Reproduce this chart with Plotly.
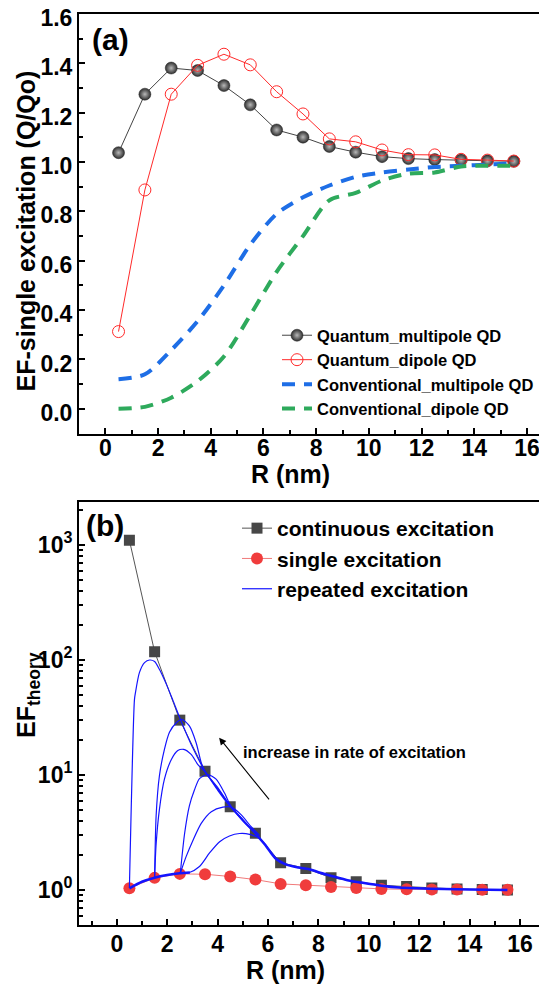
import math
import plotly.graph_objects as go

# ---------------- data: panel (a) ----------------
R = [0.5, 1.5, 2.5, 3.5, 4.5, 5.5, 6.5, 7.5, 8.5, 9.5, 10.5, 11.5, 12.5, 13.5, 14.5, 15.5]
quantum_multipole = [1.038, 1.275, 1.381, 1.371, 1.310, 1.232, 1.130, 1.101, 1.063, 1.040,
                     1.022, 1.014, 1.010, 1.008, 1.005, 1.003]
quantum_dipole = [0.313, 0.887, 1.275, 1.392, 1.437, 1.394, 1.285, 1.195, 1.094, 1.082,
                  1.049, 1.030, 1.029, 1.011, 1.008, 1.004]
conventional_multipole = [0.12, 0.14, 0.238, 0.355, 0.50, 0.665, 0.79, 0.857, 0.905, 0.94,
                          0.958, 0.97, 0.98, 0.985, 0.99, 0.995]
conventional_dipole = [0.0, 0.008, 0.045, 0.112, 0.212, 0.38, 0.555, 0.70, 0.845, 0.875,
                       0.925, 0.953, 0.958, 0.982, 0.985, 0.985]

# ---------------- data: panel (b) ----------------
continuous_excitation = [1100, 118, 30, 10.8, 5.3, 3.11, 1.73, 1.54, 1.28, 1.18,
                         1.10, 1.07, 1.04, 1.02, 1.01, 1.0]
single_excitation = [1.038, 1.275, 1.381, 1.371, 1.310, 1.232, 1.130, 1.101, 1.063, 1.040,
                     1.022, 1.014, 1.010, 1.008, 1.005, 1.003]

# repeated excitation curves (several excitation rates)
rep_base_R = [0.5, 1.0, 1.5, 2.0, 2.5, 2.9]
rep_base_EF = [1.035, 1.18, 1.28, 1.35, 1.40, 1.42]
rep_tail_R = [5.5, 5.9, 6.29, 6.68, 7.2, 7.6, 8.0, 8.6, 9.2, 9.7, 10.5, 11.2, 11.9, 13.0, 14.0, 15.5]
rep_tail_EF = [3.1, 2.45, 1.89, 1.68, 1.57, 1.52, 1.43, 1.31, 1.21, 1.16, 1.09, 1.05, 1.035, 1.02, 1.01, 1.0]

rep_A_R = [0.5, 0.70, 0.74, 0.90, 1.10, 1.30, 1.50, 1.69, 1.96, 2.22, 2.55, 3.0, 3.5, 4.0, 4.5, 5.0, 5.5]
rep_A_EF = [1.04, 45, 52, 78, 95, 100, 97, 83, 62, 45, 29.5, 17.5, 10.8, 7.6, 5.4, 4.1, 3.1]
rep_B_R = [1.5, 1.56, 1.69, 1.89, 2.09, 2.36, 2.58, 2.88, 3.15, 3.35, 3.51, 4.0, 4.5, 5.0, 5.5]
rep_B_EF = [1.28, 4.4, 9.8, 16.7, 23.5, 28.5, 30.5, 26.7, 19, 12.8, 10.6, 7.8, 5.4, 4.1, 3.1]
rep_C_R = [1.5, 1.56, 1.69, 1.89, 2.17, 2.42, 2.65, 2.95, 3.21, 3.51, 4.0, 4.5, 5.0, 5.5]
rep_C_EF = [1.28, 2.5, 5.0, 9.2, 13.7, 16.3, 16.7, 15.1, 12.4, 10.6, 7.4, 5.3, 4.0, 3.1]
rep_D_R = [2.52, 2.69, 2.88, 3.08, 3.28, 3.61, 3.94, 4.27, 4.5, 5.0, 5.53]
rep_D_EF = [1.40, 3.1, 5.4, 7.4, 9.3, 10.1, 9.2, 7.0, 5.5, 4.0, 3.07]
rep_E_R = [2.52, 2.75, 3.02, 3.35, 3.75, 4.21, 4.54, 4.94, 5.33, 5.66]
rep_E_EF = [1.40, 1.95, 2.7, 3.8, 4.8, 5.25, 5.25, 4.5, 3.55, 3.0]
rep_F_R = [2.52, 2.88, 3.28, 3.68, 4.08, 4.47, 4.87, 5.27, 5.66, 5.99]
rep_F_EF = [1.40, 1.42, 1.6, 2.1, 2.63, 2.95, 3.1, 3.05, 2.8, 2.34]

x_ticks = [0, 2, 4, 6, 8, 10, 12, 14, 16]
log_ticks = [1, 10, 100, 1000]
log_tick_text = ["10<sup>0</sup>", "10<sup>1</sup>", "10<sup>2</sup>", "10<sup>3</sup>"]

# ---------------- layout helpers ----------------
OFF = 8                      # default page (body) margin of the html page
W, H = 547 - OFF, 986 - OFF  # figure fills the window from (OFF, OFF)
FONT = "Liberation Sans, Arial, sans-serif"


def px(x, y):
    """window pixel -> paper coordinates"""
    return (x - OFF) / W, (H - (y - OFF)) / H


def fx(x):
    return px(x, 0)[0]


def fy(y):
    return px(0, y)[1]


fig = go.Figure()

# panel (a)
fig.add_trace(go.Scatter(
    x=R, y=quantum_multipole, mode="lines+markers", name="Quantum_multipole QD",
    line=dict(color="#444444", width=1),
    marker=dict(symbol="circle", size=12, color="#2e2e2e",
                gradient=dict(type="radial", color="#b8b8b8"),
                line=dict(color="#222222", width=0.5)),
    xaxis="x", yaxis="y", legend="legend"))
fig.add_trace(go.Scatter(
    x=R, y=quantum_dipole, mode="lines+markers", name="Quantum_dipole QD",
    line=dict(color="#ff2a2a", width=1),
    marker=dict(symbol="circle-open", size=12, color="#ff2a2a", line=dict(width=1)),
    xaxis="x", yaxis="y", legend="legend"))
fig.add_trace(go.Scatter(
    x=R, y=conventional_multipole, mode="lines", name="Conventional_multipole QD",
    line=dict(color="#1e6ee6", width=4, dash="13px,9px", shape="spline", smoothing=0.8),
    xaxis="x", yaxis="y", legend="legend"))
fig.add_trace(go.Scatter(
    x=R, y=conventional_dipole, mode="lines", name="Conventional_dipole QD",
    line=dict(color="#2eaa5c", width=4, dash="13px,9px", shape="spline", smoothing=0.8),
    xaxis="x", yaxis="y", legend="legend"))

# panel (b)
fig.add_trace(go.Scatter(
    x=R, y=continuous_excitation, mode="lines+markers", name="continuous excitation",
    line=dict(color="#555555", width=1),
    marker=dict(symbol="square", size=11, color="#474747"),
    xaxis="x2", yaxis="y2", legend="legend2"))
fig.add_trace(go.Scatter(
    x=R, y=single_excitation, mode="lines+markers", name="single excitation",
    line=dict(color="#f07a7a", width=1),
    marker=dict(symbol="circle", size=12, color="#f03c3c"),
    xaxis="x2", yaxis="y2", legend="legend2"))

curves = [(rep_A_R, rep_A_EF), (rep_B_R, rep_B_EF), (rep_C_R, rep_C_EF),
          (rep_D_R, rep_D_EF), (rep_E_R, rep_E_EF), (rep_F_R, rep_F_EF)]
for i, (cx, cy) in enumerate(curves):
    fig.add_trace(go.Scatter(
        x=cx, y=cy, mode="lines", name="repeated excitation", showlegend=(i == 0),
        line=dict(color="#1414ff", width=1.2, shape="spline", smoothing=0.7),
        xaxis="x2", yaxis="y2", legend="legend2"))
for cx, cy in [(rep_base_R, rep_base_EF), (rep_tail_R, rep_tail_EF)]:
    fig.add_trace(go.Scatter(
        x=cx, y=cy, mode="lines", showlegend=False,
        line=dict(color="#1414ff", width=2.6, shape="spline", smoothing=0.7),
        xaxis="x2", yaxis="y2"))

tickfont = dict(family=FONT, size=23, color="black", weight="bold")
axis_common = dict(showline=True, linewidth=2, linecolor="black", showgrid=False,
                   zeroline=False, ticks="inside", ticklen=6, tickwidth=1.5,
                   tickcolor="black", tickfont=tickfont, automargin=False,
                   ticklabeloverflow="allow")
minor_x = dict(dtick=1, tick0=0, ticks="inside", ticklen=3.5, tickwidth=1.5, tickcolor="black")

left = fx(79)
fig.update_layout(
    width=W, height=H, autosize=False,
    margin=dict(l=0, r=0, t=0, b=0, pad=0, autoexpand=False),
    plot_bgcolor="white", paper_bgcolor="white",
    font=dict(family=FONT, color="black"),
    xaxis=dict(domain=[left, 1], range=[-1, 16.76], tickvals=x_ticks, mirror=True,
               minor=minor_x, anchor="y", ticklabelstandoff=-7, **axis_common),
    yaxis=dict(domain=[fy(433.5), fy(14)], range=[-0.1, 1.6], dtick=0.2, tick0=0,
               tickformat=".1f", ticklabelshift=4,
               minor=dict(dtick=0.1, tick0=0, ticks="inside", ticklen=3.5, tickwidth=1.5,
                          tickcolor="black"),
               anchor="x", **axis_common),
    xaxis2=dict(domain=[left, 1], range=[-1.5, 17.07], tickvals=x_ticks, mirror=True,
                minor=minor_x, anchor="y2", ticklabelstandoff=-2, **axis_common),
    yaxis2=dict(domain=[fy(924.5), fy(502)], type="log", range=[-0.3, 3.374],
                tickvals=log_ticks, ticktext=log_tick_text,
                minor=dict(tickvals=[m * 10 ** e for e in range(-1, 4) for m in range(2, 10)],
                           ticks="inside", ticklen=3.5, tickwidth=1.5, tickcolor="black"),
                anchor="x2", **axis_common),
    legend=dict(x=fx(318 - 41), y=fy(318), xanchor="left", yanchor="top",
                bgcolor="rgba(0,0,0,0)", borderwidth=0, tracegroupgap=0,
                font=dict(family=FONT, size=16.5, color="black", weight="bold")),
    legend2=dict(x=fx(278 - 41), y=fy(508), xanchor="left", yanchor="top",
                 bgcolor="rgba(0,0,0,0)", borderwidth=0, tracegroupgap=0,
                 font=dict(family=FONT, size=21, color="black", weight="bold")),
)


def bold(size):
    return dict(family=FONT, size=size, color="black", weight="bold")


def label(text, x, y, size, **kw):
    ax, ay = px(x, y)
    return dict(text=text, x=ax, y=ay, xref="paper", yref="paper", showarrow=False,
                font=bold(size), xanchor="center", yanchor="middle", **kw)


annotations = [
    label("(a)", 110, 40, 30),
    label("(b)", 105, 525, 30),
    label("R (nm)", 290, 474, 25),
    label("R (nm)", 285, 970, 25),
    label("EF-single excitation (Q/Qo)", 25, 231.5, 25, textangle=-90),
    label("EF<sub>theory</sub>", 28, 695, 25, textangle=-90),
    label("increase in rate of excitation", 354, 751.7, 16.5),
    dict(text="", x=4.06, y=math.log10(21.1), ax=6.09, ay=math.log10(5.95),
         xref="x2", yref="y2", axref="x2", ayref="y2", showarrow=True,
         arrowhead=2, arrowsize=1.3, arrowwidth=1.1, arrowcolor="black"),
]
fig.update_layout(annotations=annotations)

fig.write_html("out.html")
